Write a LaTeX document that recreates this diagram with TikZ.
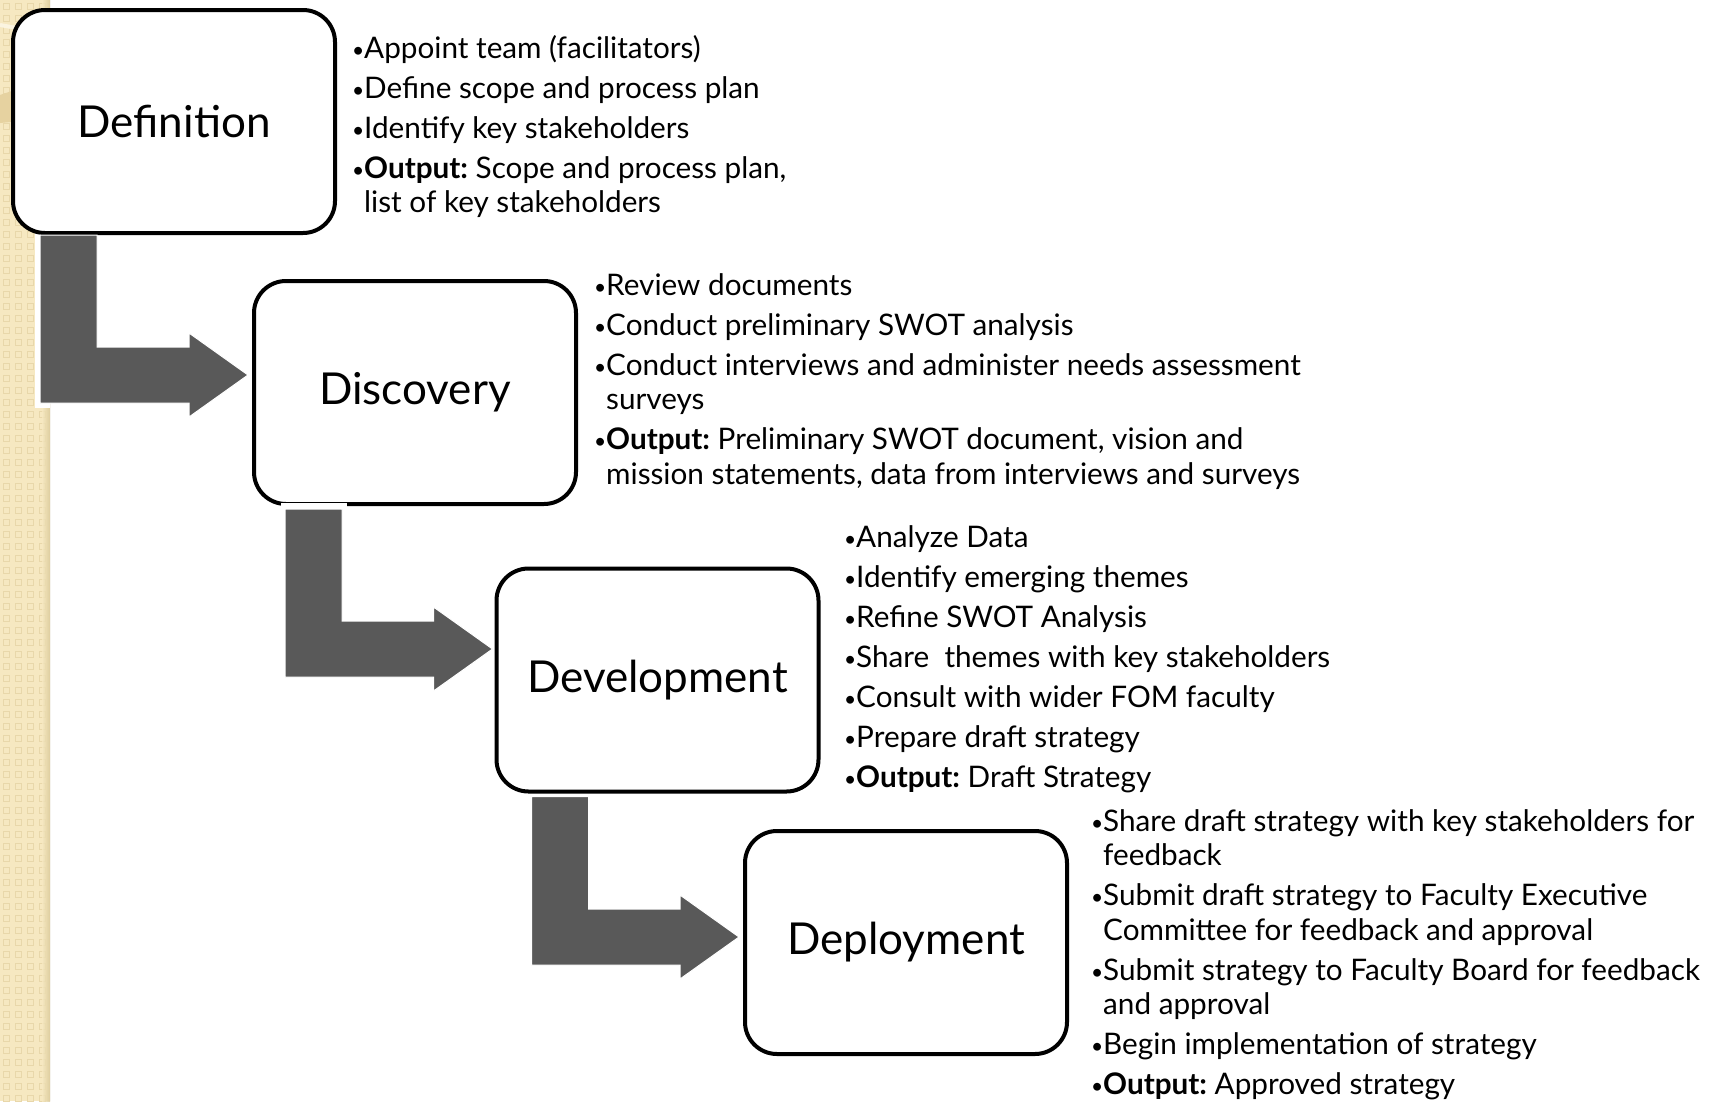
\documentclass[tikz,border=0pt]{standalone}
\usepackage{fontspec}
\setmainfont{Lato}
\usetikzlibrary{calc}
\definecolor{arrowgray}{HTML}{595959}
\definecolor{stripbg}{HTML}{F6E8C1}
\definecolor{stripsq}{HTML}{E8D7AA}
\definecolor{stripedge}{HTML}{D8C796}
\definecolor{stripband}{HTML}{E6D2A0}
\definecolor{stripcream}{HTML}{FBF4E0}
\newcommand\bu{\makebox[12pt][l]{\raisebox{1pt}{\fontsize{21}{21}\selectfont •}}}
\newcommand\cont{\hspace*{12pt}}
\frenchspacing
\begin{document}
\begin{tikzpicture}[x=1pt,y=-1pt,
  stage/.style={draw=black, line width=4pt, rounded corners=32pt, fill=white,
    minimum width=322pt, minimum height=223pt, inner sep=0pt,
    font=\fontsize{44}{52}\selectfont},
  bullets/.style={anchor=north west, align=left, inner sep=0pt,
    font=\fontsize{29.7}{34.5}\selectfont},
  bigarrow/.style={fill=arrowgray, draw=white, line width=1pt}
]
\useasboundingbox (0,0) rectangle (1714,1101);
\fill[white] (0,0) rectangle (1714,1101);
% decorative strip
\begin{scope}
  \clip (0,0) rectangle (50,1101);
  \fill[stripbg] (0,0) rectangle (50,1101);
  \foreach \i in {0,...,4}{
    \foreach \j in {0,...,92}{
      \draw[stripsq, line width=1pt] ({\i*12+3},{\j*12+3}) rectangle ++(6,6);
    }
  }
  \fill[stripband] (0,95) .. controls (25,86) .. (50,78) -- (50,118) .. controls (25,120) .. (0,123) -- cycle;
  \draw[stripcream, line width=4pt] (0,25) .. controls (25,30) .. (50,34);
  \shade[left color=stripbg, right color=stripedge, opacity=0.8] (42,0) rectangle (50,1101);
  \draw[gray!40, line width=1pt] (50,0) -- (50,1101);
\end{scope}
\fill[white] (35,233) rectangle (50,408);

% stage boxes
\node[stage] (def) at (174,121.5) {Definition};
\node[stage] (disc) at (415,392.5) {Discovery};
\node[stage] (dev) at (657.5,680) {Development};
\node[stage] (dep) at (906,942.5) {Deployment};

\fill[white] (281,503) rectangle (347,508);

% arrow anchor points
\coordinate (s1) at ($(def.south west)+(29,0)$);
\coordinate (t1) at ($(disc.west)+(-4,-17.5)$);
\coordinate (s2) at ($(disc.south west)+(33,3)$);
\coordinate (t2) at ($(dev.west)+(-2,-31)$);
\coordinate (s3) at ($(dev.south west)+(37,3)$);
\coordinate (t3) at ($(dep.west)+(-4,-5.5)$);

\foreach \s/\t in {s1/t1, s2/t2, s3/t3}{
  \path[bigarrow] (\s) -- ++(57,0) |- ($(\t)+(-59,-28)$) -- ++(0,-14) -- (\t)
    -- ($(\t)+(-59,42)$) -- ++(0,-14) -| (\s) -- cycle;
}

% bullet texts
\node[bullets] (defl) at (352,34) {\strut\bu Appoint team (facilitators)\\[5.5pt]
\bu Define scope and process plan\\[5.5pt]
\bu Identify key stakeholders\\[5.5pt]
\bu\textbf{Output:} Scope and process plan,\\
\cont list of key stakeholders};

\node[bullets] (discl) at (594,271) {\strut\bu Review documents\\[5.5pt]
\bu Conduct preliminary SWOT analysis\\[5.5pt]
\bu Conduct interviews and administer needs assessment\\
\cont surveys\\[5.5pt]
\bu\textbf{Output:} Preliminary SWOT document, vision and\\
\cont mission statements, data from interviews and surveys};

\node[bullets] (devl) at (844,523) {\strut\bu Analyze Data\\[5.5pt]
\bu Identify emerging themes\\[5.5pt]
\bu Refine SWOT Analysis\\[5.5pt]
\bu Share\ \ themes with key stakeholders\\[5.5pt]
\bu Consult with wider FOM faculty\\[5.5pt]
\bu Prepare draft strategy\\[5.5pt]
\bu\textbf{Output:} Draft Strategy};

\node[bullets] (depl) at (1091,807) {\strut\bu Share draft strategy with key stakeholders for\\
\cont feedback\\[5.5pt]
\bu Submit draft strategy to Faculty Executive\\
\cont Committee for feedback and approval\\[5.5pt]
\bu Submit strategy to Faculty Board for feedback\\
\cont and approval\\[5.5pt]
\bu Begin implementation of strategy\\[5.5pt]
\bu\textbf{Output:} Approved strategy};
\end{tikzpicture}
\end{document}
